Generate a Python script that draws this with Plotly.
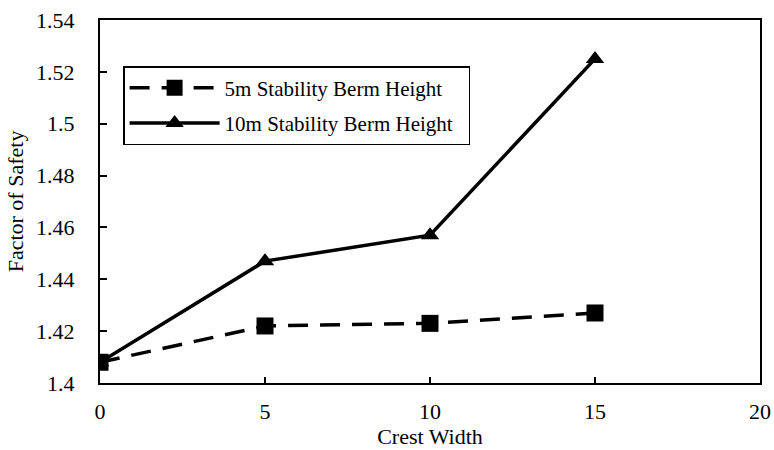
import plotly.graph_objects as go

crest_width = [0, 5, 10, 15]
fos_5m = [1.408, 1.422, 1.423, 1.427]
fos_10m = [1.408, 1.447, 1.457, 1.525]
x_ticks = [0, 5, 10, 15, 20]
y_ticks = [1.40, 1.42, 1.44, 1.46, 1.48, 1.50, 1.52, 1.54]
y_tick_labels = ["1.4", "1.42", "1.44", "1.46", "1.48", "1.5", "1.52", "1.54"]

font = "Liberation Serif"

fig = go.Figure()
fig.add_trace(go.Scatter(
    x=crest_width, y=fos_5m, mode="lines+markers",
    name="5m Stability Berm Height\u00a0\u00a0", legendgroup="a",
    line=dict(color="black", width=3.5, dash="20px,12px"),
    marker=dict(symbol="square", size=17, color="black"),
))
fig.add_trace(go.Scatter(
    x=crest_width, y=fos_10m, mode="lines+markers",
    name="10m Stability Berm Height\u00a0\u00a0", legendgroup="b",
    line=dict(color="black", width=3.5),
    marker=dict(symbol="triangle-up", size=16, color="black"),
))

fig.update_layout(
    width=774, height=450,
    margin=dict(l=100, r=14, t=20, b=67, autoexpand=False),
    paper_bgcolor="white", plot_bgcolor="white",
    font=dict(family=font, size=22, color="black"),
    showlegend=True,
    legend=dict(
        x=0.035, y=0.873, xanchor="left", yanchor="top",
        bordercolor="black", borderwidth=1.5, bgcolor="white",
        font=dict(family=font, size=21, color="black"),
        traceorder="grouped", tracegroupgap=5, itemwidth=90,
    ),
    xaxis=dict(
        range=[0, 20], tickvals=x_ticks, ticktext=[str(v) for v in x_ticks],
        showgrid=False, zeroline=False, showline=True, linecolor="black", linewidth=2,
        mirror=True, ticks="inside", ticklen=6, tickwidth=1.5, tickcolor="black",
        ticklabelstandoff=8, automargin=False,
        title=dict(text="Crest Width", font=dict(family=font, size=22), standoff=4),
        tickfont=dict(family=font, size=22),
    ),
    yaxis=dict(
        range=[1.4, 1.54], tickvals=y_ticks, ticktext=y_tick_labels,
        showgrid=False, zeroline=False, showline=True, linecolor="black", linewidth=2,
        mirror=True, ticks="inside", ticklen=7, tickwidth=1.5, tickcolor="black",
        ticklabelstandoff=19, automargin=False,
        title=dict(text="Factor of Safety", font=dict(family=font, size=22), standoff=6),
        tickfont=dict(family=font, size=22),
    ),
)

fig.write_html("out.html")
